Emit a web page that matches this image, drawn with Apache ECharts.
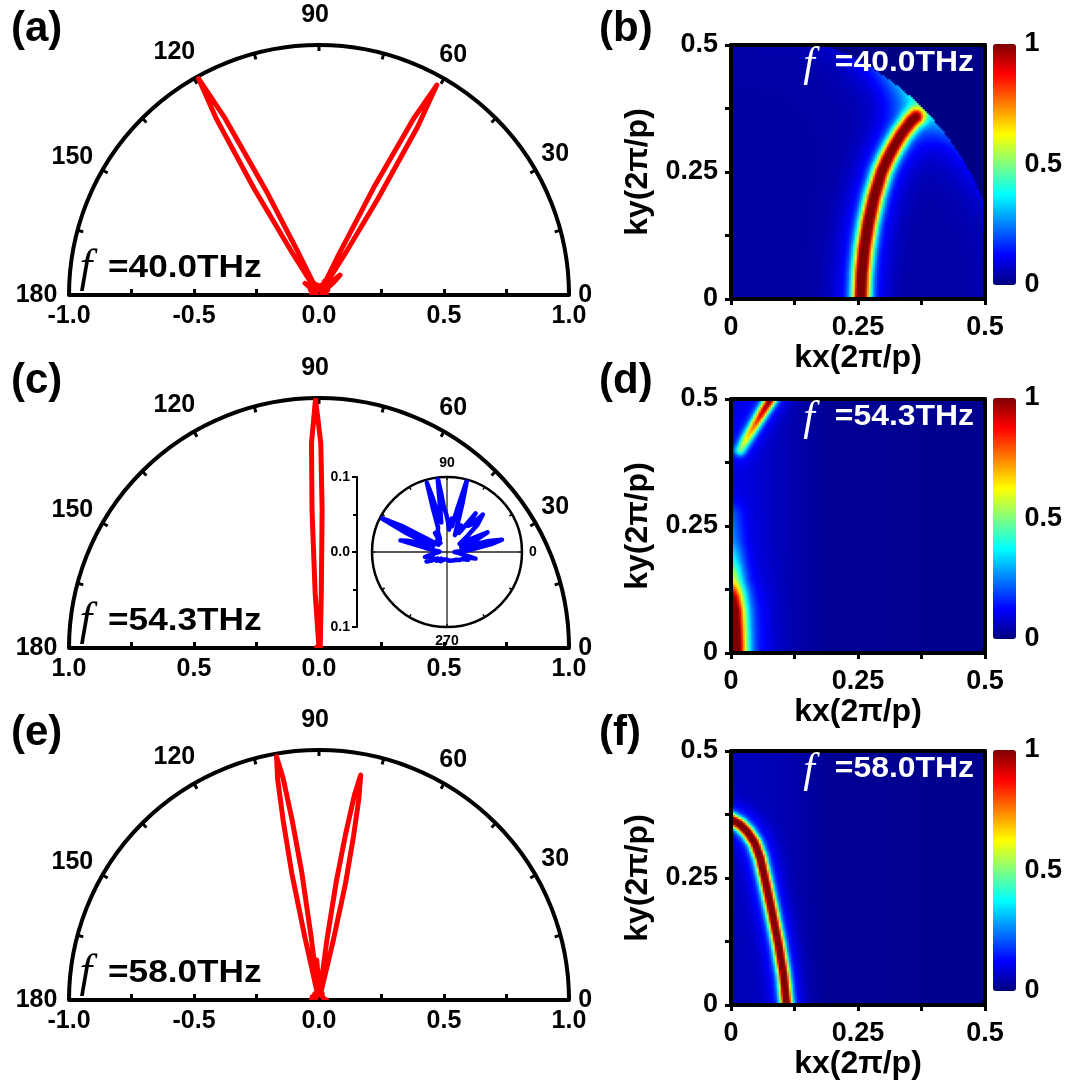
<!DOCTYPE html>
<html>
<head>
<meta charset="utf-8">
<script src="https://cdn.jsdelivr.net/npm/echarts@6/dist/echarts.min.js"></script>
<style>
html, body { margin: 0; padding: 0; background: #fff; }
#main { width: 1065px; height: 1084px; }
</style>
</head>
<body>
<div id="main"></div>
<script>
// frequencies of the three rows
var freqs = ['40.0', '54.3', '58.0'];
// angle tick labels of the half polar plots
var polarTicks = [0, 30, 60, 90, 120, 150, 180];

// red far-field lobes: angle (deg) and normalized intensity
var angA = [0, 12, 22, 30, 36, 41, 43.6, 46, 50, 53, 56.7, 57.7, 58.5, 59.6, 60.7, 61.8, 63, 64, 64.7, 68, 72, 80, 90, 100, 108, 112, 115.1, 116.1, 116.9, 118, 119.1, 120.2, 121.4, 122.4, 123.2, 128, 133, 137, 140, 143, 150, 160, 170, 180];
var rA = [0.01, 0.03, 0.015, 0.04, 0.02, 0.08, 0.116, 0.06, 0.03, 0.05, 0.03, 0.2, 0.45, 0.78, 0.963, 0.8, 0.48, 0.18, 0.03, 0.06, 0.02, 0.04, 0.02, 0.04, 0.02, 0.05, 0.03, 0.2, 0.47, 0.8, 0.992, 0.82, 0.5, 0.2, 0.03, 0.05, 0.03, 0.05, 0.073, 0.03, 0.04, 0.015, 0.03, 0.01];

var angC = [0, 20, 40, 60, 80, 86.8, 87.6, 88.7, 89.5, 90.8, 92.1, 92.9, 94.0, 94.8, 100, 120, 140, 160, 180];
var rC = [0.006, 0.01, 0.006, 0.01, 0.008, 0.01, 0.22, 0.55, 0.82, 0.995, 0.82, 0.55, 0.22, 0.01, 0.008, 0.01, 0.006, 0.01, 0.006];

var angE = [0, 8, 15, 25, 35, 50, 65, 72, 75.8, 76.5, 77.2, 78.1, 78.8, 79.5, 80.2, 80.9, 81.7, 82.5, 83.2, 86, 88, 91.5, 93.3, 95, 96.6, 97.1, 97.7, 98.5, 99.2, 99.9, 100.6, 101.3, 102.1, 102.7, 103.2, 110, 125, 140, 155, 165, 172, 180];
var rE = [0.03, 0.035, 0.02, 0.03, 0.015, 0.02, 0.03, 0.02, 0.03, 0.24, 0.48, 0.67, 0.82, 0.915, 0.83, 0.67, 0.48, 0.24, 0.03, 0.06, 0.03, 0.08, 0.16, 0.06, 0.03, 0.26, 0.52, 0.73, 0.9, 0.988, 0.9, 0.73, 0.52, 0.26, 0.03, 0.02, 0.03, 0.015, 0.03, 0.02, 0.035, 0.03];

// blue inset of (c), full circle, radius 0..0.1
var angI = [0, 5, 10, 12.7, 15, 18, 22, 26, 29, 33, 38, 42, 46.3, 48, 51, 53.5, 55.5, 58, 62, 65, 70, 72.5, 74.5, 76.5, 79, 82, 85, 88, 91, 94, 95.8, 97.2, 98.8, 101, 103, 104.8, 106.2, 108, 110, 114, 118, 122, 126, 132, 140, 146, 150, 152.7, 155, 158, 161, 164, 166, 169, 173, 178, 183, 188, 193, 196, 200, 205, 210, 215, 220, 228, 235, 245, 255, 265, 275, 285, 295, 305, 312, 320, 328, 335, 340, 344, 347, 352, 356, 360];
var rI = [0.01, 0.03, 0.06, 0.075, 0.055, 0.02, 0.04, 0.06, 0.035, 0.02, 0.035, 0.055, 0.069, 0.05, 0.045, 0.064, 0.04, 0.03, 0.04, 0.025, 0.045, 0.07, 0.1, 0.06, 0.035, 0.045, 0.03, 0.04, 0.05, 0.06, 0.08, 0.1, 0.06, 0.04, 0.05, 0.075, 0.096, 0.06, 0.035, 0.03, 0.02, 0.03, 0.015, 0.02, 0.015, 0.03, 0.07, 0.1, 0.06, 0.02, 0.035, 0.055, 0.064, 0.03, 0.015, 0.01, 0.012, 0.02, 0.03, 0.032, 0.02, 0.03, 0.022, 0.015, 0.018, 0.012, 0.015, 0.011, 0.012, 0.01, 0.011, 0.012, 0.011, 0.014, 0.012, 0.016, 0.02, 0.022, 0.03, 0.025, 0.039, 0.02, 0.015, 0.01];

// (b) ridge of the k-space map, boundary glow by azimuth
var ridgeB_kx = [0.256, 0.258, 0.263, 0.271, 0.282, 0.297, 0.308, 0.321, 0.336, 0.355, 0.364];
var ridgeB_ky = [0.000, 0.050, 0.100, 0.150, 0.200, 0.250, 0.275, 0.300, 0.325, 0.350, 0.358];
var ridgeB_amp = [1.0, 1.0, 1.0, 1.0, 0.98, 0.96, 0.95, 0.93, 0.9, 0.85, 0.8];
var circleB = 0.533;
var glowB_phi = [15, 25, 35, 42, 47, 52, 58, 65, 75];
var glowB_amp = [0.04, 0.07, 0.13, 0.22, 0.3, 0.24, 0.14, 0.06, 0.02];

// (d) edge ridge and upper streak
var ridgeD1_kx = [0.006, 0.005, 0.004, 0.002, 0.000, 0.000, 0.000, 0.000];
var ridgeD1_ky = [0.000, 0.040, 0.080, 0.110, 0.140, 0.180, 0.220, 0.270];
var ridgeD1_amp = [1.0, 1.0, 0.95, 0.8, 0.5, 0.28, 0.15, 0.1];
var ridgeD2_kx = [0.019, 0.033, 0.048, 0.063, 0.079, 0.095];
var ridgeD2_ky = [0.400, 0.425, 0.450, 0.475, 0.500, 0.525];
var ridgeD2_amp = [0.35, 0.5, 0.62, 0.75, 0.85, 0.9];
var bgD_kx = [0, 0.05, 0.1, 0.15, 0.2, 0.5];
var bgD_val = [0.1, 0.08, 0.055, 0.035, 0.02, 0.015];

// (f) ring
var ridgeF_kx = [0.000, 0.018, 0.033, 0.047, 0.058, 0.067, 0.081, 0.094, 0.104, 0.110];
var ridgeF_ky = [0.366, 0.356, 0.341, 0.320, 0.290, 0.250, 0.185, 0.120, 0.060, 0.000];
var ridgeF_amp = [1, 1, 1, 1, 1, 1, 1, 1, 1, 1];
var bgF_kx = [0, 0.1, 0.15, 0.2, 0.5];
var bgF_val = [0.06, 0.05, 0.035, 0.02, 0.015];

var jet = ['#00007f', '#0000ff', '#007fff', '#00ffff', '#7fff7f', '#ffff00', '#ff7f00', '#ff0000', '#7f0000'];

var polarCY = [295, 648, 1000];
var heatTop = [45, 399, 751];
var letterY = [29, 381, 733];
var N = 127;

function interp(xs, ys, x) {
    if (x <= xs[0]) return ys[0];
    for (var i = 0; i < xs.length - 1; i++) {
        if (x <= xs[i + 1]) {
            var t = (x - xs[i]) / (xs[i + 1] - xs[i]);
            return ys[i] + t * (ys[i + 1] - ys[i]);
        }
    }
    return ys[ys.length - 1];
}

// nearest point on a polyline
function nearest(x, y, px, py) {
    var best = 1e9, bi = 0, bt = 0;
    for (var i = 0; i < px.length - 1; i++) {
        var dx = px[i + 1] - px[i], dy = py[i + 1] - py[i];
        var l2 = dx * dx + dy * dy;
        var u = l2 > 0 ? ((x - px[i]) * dx + (y - py[i]) * dy) / l2 : 0;
        u = Math.max(0, Math.min(1, u));
        var qx = px[i] + u * dx - x, qy = py[i] + u * dy - y;
        var d = qx * qx + qy * qy;
        if (d < best) { best = d; bi = i; bt = u; }
    }
    return { d: Math.sqrt(best), i: bi, t: bt };
}

function ridge(x, y, px, py, amp, sig, haloSig, haloAmp, mirror) {
    var pts = mirror ? [[x, y], [-x, y], [x, -y]] : [[x, y]];
    var v = 0;
    pts.forEach(function (p) {
        var q = nearest(p[0], p[1], px, py);
        var a = amp[q.i] + q.t * (amp[q.i + 1] - amp[q.i]);
        var d2 = q.d * q.d;
        var c = a * Math.exp(-d2 / (2 * sig * sig)) + haloAmp * a * Math.exp(-d2 / (2 * haloSig * haloSig));
        v = Math.max(v, c);
    });
    return v;
}

function valueB(x, y) {
    var r = Math.sqrt(x * x + y * y);
    if (r > circleB) return 0.005;
    var phi = Math.atan2(y, x) * 180 / Math.PI;
    var glow = interp(glowB_phi, glowB_amp, phi) * Math.exp(-(circleB - r) / 0.035);
    return Math.min(1, 0.035 + glow + ridge(x, y, ridgeB_kx, ridgeB_ky, ridgeB_amp, 0.012, 0.035, 0.15, true));
}
function valueD(x, y) {
    var v = interp(bgD_kx, bgD_val, x);
    v += ridge(x, y, ridgeD1_kx, ridgeD1_ky, ridgeD1_amp, 0.017, 0.04, 0.15, true);
    v += ridge(x, y, ridgeD2_kx, ridgeD2_ky, ridgeD2_amp, 0.0075, 0.02, 0.15, false);
    return Math.min(1, v);
}
function valueF(x, y) {
    var v = interp(bgF_kx, bgF_val, x);
    v += ridge(x, y, ridgeF_kx, ridgeF_ky, ridgeF_amp, 0.0078, 0.022, 0.15, true);
    return Math.min(1, v);
}

function buildMap(fn) {
    var out = [];
    for (var i = 0; i < N; i++) {
        for (var j = 0; j < N; j++) {
            var x = (i + 0.5) * 0.5 / N, y = (j + 0.5) * 0.5 / N;
            out.push([i, j, fn(x, y)]);
        }
    }
    return out;
}

var cats = [];
for (var c = 0; c < N; c++) cats.push(c);

var black = '#000';
var font = 'Liberation Sans';

var polar = [], angleAxis = [], radiusAxis = [];
var grid = [], xAxis = [], yAxis = [];
var series = [], visualMap = [], graphic = [];

// half polar plots
polarCY.forEach(function (cy, k) {
    polar.push({ center: [319, cy], radius: 250 });
    angleAxis.push({
        polarIndex: k, type: 'value', min: 0, max: 180, startAngle: 0, endAngle: 180, clockwise: false, interval: 30,
        axisLine: { lineStyle: { color: black, width: 4 } },
        axisTick: { inside: true, length: 6, lineStyle: { color: black, width: 3 } },
        minorTick: { show: true, splitNumber: 2, length: 6, lineStyle: { color: black, width: 3 } },
        splitLine: { show: false },
        axisLabel: { show: false }
    });
    radiusAxis.push({ polarIndex: k, min: 0, max: 1, show: false });
    grid.push({ left: 69, top: cy - 250, width: 500, height: 250 });
    xAxis.push({
        gridIndex: k, type: 'value', min: -1, max: 1, interval: 0.5,
        axisLine: { onZero: false, lineStyle: { color: black, width: 4 } },
        axisTick: { inside: true, length: 6, lineStyle: { color: black, width: 3 } },
        minorTick: { show: true, splitNumber: 2, length: 6, lineStyle: { color: black, width: 3 } },
        splitLine: { show: false },
        axisLabel: {
            margin: 9, fontSize: 25, fontWeight: 'bold', color: black,
            formatter: k === 1 ? function (v) { return Math.abs(v).toFixed(1); } : function (v) { return v.toFixed(1); }
        }
    });
    yAxis.push({ gridIndex: k, type: 'value', min: 0, max: 1, show: false });
});

// inset polar in (c)
polar.push({ center: [447, 552], radius: 75 });
angleAxis.push({
    polarIndex: 3, type: 'value', min: 0, max: 360, startAngle: 0, clockwise: false, interval: 90,
    axisLine: { lineStyle: { color: black, width: 2.5 } },
    axisTick: { inside: true, length: 3, lineStyle: { color: black, width: 1.5 } },
    minorTick: { show: true, splitNumber: 3, length: 3, lineStyle: { color: black, width: 1.5 } },
    splitLine: { show: true, lineStyle: { color: '#222', width: 1.3 } },
    axisLabel: {
        margin: 7, fontSize: 14, fontWeight: 'bold', color: black,
        formatter: function (v) { return (v === 180 || v === 360) ? '' : String(v); }
    }
});
radiusAxis.push({ polarIndex: 3, min: 0, max: 0.1, show: false });
grid.push({ left: 357, top: 477, width: 1, height: 150 });
xAxis.push({ gridIndex: 3, type: 'value', show: false });
yAxis.push({
    gridIndex: 3, type: 'value', min: -0.1, max: 0.1, interval: 0.1,
    axisLine: { show: true, onZero: false, lineStyle: { color: black, width: 2 } },
    axisTick: { show: true, length: 5, lineStyle: { color: black, width: 2 } },
    minorTick: { show: true, splitNumber: 2, length: 4, lineStyle: { color: black, width: 2 } },
    splitLine: { show: false },
    axisLabel: { margin: 7, fontSize: 14, fontWeight: 'bold', color: black, formatter: function (v) { return Math.abs(v).toFixed(1); } }
});

// heatmap grids (hidden category axes)
heatTop.forEach(function (top, k) {
    grid.push({ left: 731, top: top, width: 254, height: 254 });
    xAxis.push({ gridIndex: 4 + k, type: 'category', data: cats, show: false });
    yAxis.push({ gridIndex: 4 + k, type: 'category', data: cats, show: false });
});
// visible value axes over the heatmaps
var axisLabelH = { margin: 13, fontSize: 27, fontWeight: 'bold', color: black };
heatTop.forEach(function (top) {
    grid.push({ left: 731, top: top, width: 254, height: 254 });
});
heatTop.forEach(function (top, k) {
    xAxis.push({
        gridIndex: 7 + k, type: 'value', min: 0, max: 0.5, interval: 0.25, z: 10,
        axisLine: { onZero: false, lineStyle: { color: black, width: 4 } },
        axisTick: { length: 6, lineStyle: { color: black, width: 3 } },
        minorTick: { show: true, splitNumber: 2, length: 6, lineStyle: { color: black, width: 3 } },
        splitLine: { show: false },
        axisLabel: Object.assign({}, axisLabelH, { margin: 15 }),
        name: 'kx(2π/p)', nameLocation: 'middle', nameGap: 40,
        nameTextStyle: { fontSize: 32, fontWeight: 'bold', color: black }
    });
    yAxis.push({
        gridIndex: 7 + k, type: 'value', min: 0, max: 0.5, interval: 0.25, z: 10,
        axisLine: { onZero: false, lineStyle: { color: black, width: 4 } },
        axisTick: { length: 6, lineStyle: { color: black, width: 3 } },
        minorTick: { show: true, splitNumber: 2, length: 6, lineStyle: { color: black, width: 3 } },
        splitLine: { show: false },
        axisLabel: axisLabelH,
        name: 'ky(2π/p)', nameLocation: 'middle', nameGap: 77,
        nameTextStyle: { fontSize: 32, fontWeight: 'bold', color: black }
    });
});
heatTop.forEach(function (top, k) {
    xAxis.push({
        gridIndex: 7 + k, type: 'value', position: 'top', min: 0, max: 0.5, z: 10,
        axisLine: { onZero: false, lineStyle: { color: black, width: 4 } },
        axisTick: { show: false }, axisLabel: { show: false }, splitLine: { show: false }
    });
    yAxis.push({
        gridIndex: 7 + k, type: 'value', position: 'right', min: 0, max: 0.5, z: 10,
        axisLine: { onZero: false, lineStyle: { color: black, width: 4 } },
        axisTick: { show: false }, axisLabel: { show: false }, splitLine: { show: false }
    });
});
// colour bar label axes
heatTop.forEach(function (top, k) {
    grid.push({ left: 993, top: top - 1, width: 23, height: 241 });
    xAxis.push({ gridIndex: 10 + k, type: 'value', show: false });
    yAxis.push({
        gridIndex: 10 + k, type: 'value', position: 'right', min: 0, max: 1, interval: 0.5,
        axisLine: { show: false }, axisTick: { show: false }, splitLine: { show: false },
        axisLabel: { margin: 10, fontSize: 27, fontWeight: 'bold', color: black }
    });
});

// series: polar lobes
[[angA, rA], [angC, rC], [angE, rE]].forEach(function (d, k) {
    series.push({
        type: 'line', coordinateSystem: 'polar', polarIndex: k, showSymbol: false, clip: false,
        lineStyle: { color: '#ff0000', width: 5, join: 'round', cap: 'round' },
        data: d[0].map(function (a, i) { return [d[1][i], a]; })
    });
});
series.push({
    type: 'line', coordinateSystem: 'polar', polarIndex: 3, showSymbol: false, clip: false,
    lineStyle: { color: '#0000ff', width: 4.5, join: 'round', cap: 'round' },
    data: angI.map(function (a, i) { return [rI[i], a]; })
});

// series: k-space maps
[valueB, valueD, valueF].forEach(function (fn, k) {
    series.push({
        type: 'heatmap', xAxisIndex: 4 + k, yAxisIndex: 4 + k, progressive: 0,
        itemStyle: { borderWidth: 0 }, emphasis: { disabled: true },
        data: buildMap(fn)
    });
    visualMap.push({
        type: 'continuous', seriesIndex: 4 + k, min: 0, max: 1,
        left: 993, top: heatTop[k] - 1, itemWidth: 23, itemHeight: 241, padding: 0,
        calculable: false, hoverLink: false, text: null,
        inRange: { color: jet }
    });
});

// angle tick labels, centred just outside the arc
polarCY.forEach(function (cy, k) {
    series.push({
        type: 'scatter', coordinateSystem: 'polar', polarIndex: k, clip: false, silent: true,
        symbolSize: 1, itemStyle: { color: 'rgba(0,0,0,0)', opacity: 1 },
        label: {
            show: true, position: 'inside', fontSize: 25, fontWeight: 'bold', color: black,
            textBorderWidth: 0, opacity: 1,
            formatter: function (p) { return String(p.value[2]); }
        },
        data: polarTicks.map(function (t) {
            var rad = t === 0 ? 1.065 : (t < 90 ? 1.1 : (t === 90 ? 1.12 : 1.13));
            var off = (t === 0 || t === 180) ? 0 : 0.8;
            return [rad, t + off, t];
        })
    });
});

// panel letters and frequency tags
['(a)', '(c)', '(e)'].forEach(function (t, k) {
    graphic.push({ type: 'text', x: 11, y: letterY[k], z: 100, style: { text: t, font: 'bold 42px "Liberation Sans"', fill: black, verticalAlign: 'middle' } });
});
['(b)', '(d)', '(f)'].forEach(function (t, k) {
    graphic.push({ type: 'text', x: 599, y: letterY[k], z: 100, style: { text: t, font: 'bold 42px "Liberation Sans"', fill: black, verticalAlign: 'middle' } });
});
freqs.forEach(function (f, k) {
    var cy = polarCY[k] - 27;
    graphic.push({ type: 'text', x: 86, y: cy + 1, z: 100, style: { text: 'f', font: 'italic 46px "Liberation Serif"', fill: black, align: 'center', verticalAlign: 'middle' } });
    graphic.push({ type: 'text', x: 108, y: cy, z: 100, scaleX: 1.1, style: { text: '=' + f + 'THz', font: 'bold 32px "Liberation Sans"', fill: black, align: 'left', verticalAlign: 'middle' } });
    var hy = heatTop[k] + 18;
    graphic.push({ type: 'text', x: 809, y: hy + 2, z: 100, style: { text: 'f', font: 'italic 42px "Liberation Serif"', fill: '#fff', align: 'center', verticalAlign: 'middle' } });
    graphic.push({ type: 'text', x: 974, y: hy, z: 100, scaleX: 1.1, style: { text: '=' + f + 'THz', font: 'bold 29px "Liberation Sans"', fill: '#fff', align: 'right', verticalAlign: 'middle' } });
});

var myChart = echarts.init(document.getElementById('main'), null, { renderer: 'canvas' });
myChart.setOption({
    animation: false,
    backgroundColor: '#fff',
    textStyle: { fontFamily: font },
    polar: polar,
    angleAxis: angleAxis,
    radiusAxis: radiusAxis,
    grid: grid,
    xAxis: xAxis,
    yAxis: yAxis,
    visualMap: visualMap,
    series: series,
    graphic: graphic
});
</script>
</body>
</html>
